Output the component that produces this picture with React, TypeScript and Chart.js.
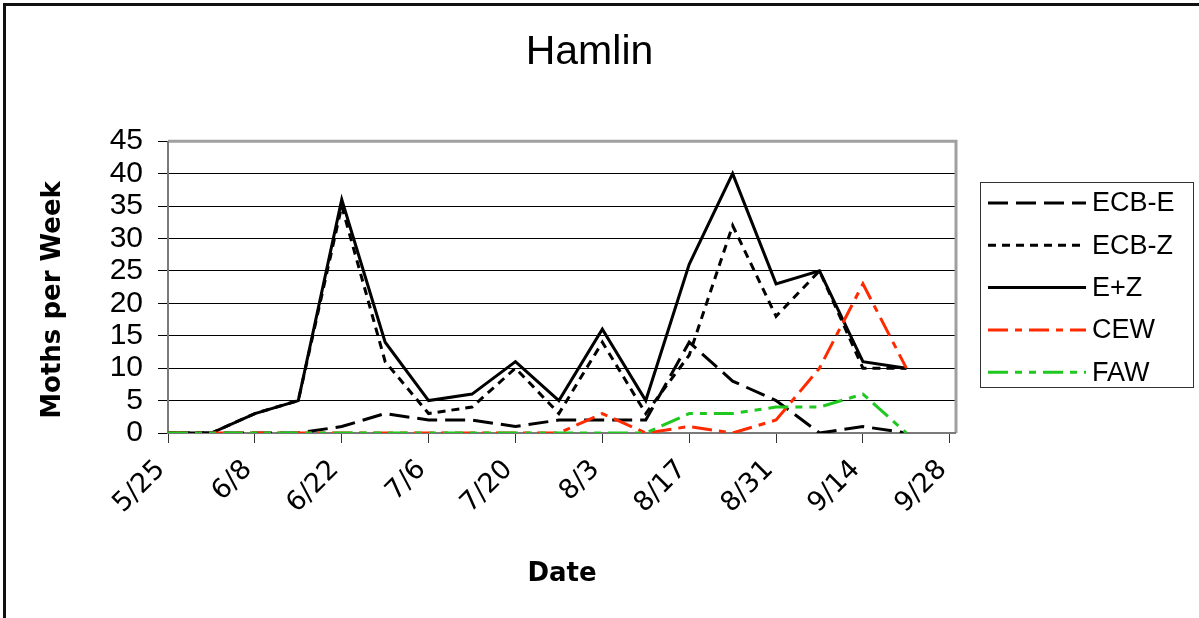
import React, { useEffect, useRef } from "react";
import { Chart, registerables } from "chart.js";

Chart.register(...registerables);

const dates = ["5/25", "6/1", "6/8", "6/15", "6/22", "6/29", "7/6", "7/13", "7/20", "7/27", "8/3", "8/10", "8/17", "8/24", "8/31", "9/7", "9/14", "9/21"];
const tickLabels = ["5/25", "6/8", "6/22", "7/6", "7/20", "8/3", "8/17", "8/31", "9/14", "9/28"];
const ecbE = [0, 0, 0, 0, 1, 3, 2, 2, 1, 2, 2, 2, 14, 8, 5, 0, 1, 0];
const ecbZ = [0, 0, 3, 5, 35, 11, 3, 4, 10, 3, 14, 3, 12, 32, 18, 25, 10, 10];
const ePlusZ = [0, 0, 3, 5, 36, 14, 5, 6, 11, 5, 16, 5, 26, 40, 23, 25, 11, 10];
const cew = [0, 0, 0, 0, 0, 0, 0, 0, 0, 0, 3, 0, 1, 0, 2, 10, 23, 10];
const faw = [0, 0, 0, 0, 0, 0, 0, 0, 0, 0, 0, 0, 3, 3, 4, 4, 6, 0];

const seriesNames = ["ECB-E", "ECB-Z", "E+Z", "CEW", "FAW"];
const yTitle = "Moths per Week";

const START = Date.UTC(2001, 4, 25);
function dayOf(label: string): number {
  const [m, d] = label.split("/").map(Number);
  return Math.round((Date.UTC(2001, m - 1, d) - START) / 86400000);
}

function pts(values: number[]) {
  return values.map((v, i) => ({ x: dayOf(dates[i]), y: v }));
}

const RED = "#ff2a00";
const GREEN = "#1ec81e";

const legendPlugin = {
  id: "customLegend",
  afterDraw(chart: any) {
    const ctx = chart.ctx;
    const box = { x: 980.5, y: 182.5, w: 213, h: 205 };
    ctx.save();
    ctx.strokeStyle = "#333";
    ctx.lineWidth = 1;
    ctx.strokeRect(box.x, box.y, box.w, box.h);
    const ds = chart.data.datasets;
    ds.forEach((d: any, i: number) => {
      const y = 203 + i * 42.3;
      ctx.beginPath();
      ctx.setLineDash(d.borderDash || []);
      ctx.lineWidth = d.borderWidth;
      ctx.strokeStyle = d.borderColor;
      ctx.lineCap = "butt";
      ctx.moveTo(988, y);
      ctx.lineTo(1086, y);
      ctx.stroke();
      ctx.setLineDash([]);
      ctx.fillStyle = "#000";
      ctx.font = "27px 'Liberation Sans'";
      ctx.textBaseline = "middle";
      ctx.textAlign = "left";
      ctx.fillText(d.label, 1092, y + 1);
    });
    // y axis title
    ctx.save();
    ctx.translate(53, 300);
    ctx.rotate(-Math.PI / 2);
    ctx.font = "bold 26px 'DejaVu Sans'";
    ctx.textAlign = "center";
    ctx.textBaseline = "middle";
    ctx.fillStyle = "#000";
    ctx.fillText(yTitle, 0, 0);
    ctx.restore();
    ctx.restore();
  },
};

const framePlugin = {
  id: "plotFrame",
  beforeDatasetsDraw(chart: any) {
    const { ctx, chartArea: a } = chart;
    ctx.save();
    ctx.strokeStyle = "#a0a0a0";
    ctx.lineWidth = 3;
    ctx.beginPath();
    ctx.moveTo(a.left, a.top);
    ctx.lineTo(a.right, a.top);
    ctx.lineTo(a.right, a.bottom);
    ctx.stroke();
    ctx.strokeStyle = "#7a7a7a";
    ctx.lineWidth = 2;
    ctx.beginPath();
    ctx.moveTo(a.left, a.top);
    ctx.lineTo(a.left, a.bottom);
    ctx.lineTo(a.right, a.bottom);
    ctx.stroke();
    ctx.restore();
  },
};

export default function App() {
  const ref = useRef<HTMLCanvasElement>(null);
  useEffect(() => {
    const canvas = ref.current!;
    const common = { pointRadius: 0, tension: 0, borderWidth: 3, borderCapStyle: "butt", fill: false };
    const chart = new Chart(canvas, {
      type: "line",
      data: {
        datasets: [
          { ...common, label: seriesNames[0], data: pts(ecbE), borderColor: "#000", borderDash: [20, 8], order: 5 },
          { ...common, label: seriesNames[1], data: pts(ecbZ), borderColor: "#000", borderDash: [8, 6], order: 4 },
          { ...common, label: seriesNames[2], data: pts(ePlusZ), borderColor: "#000", borderDash: [], order: 3 },
          { ...common, label: seriesNames[3], data: pts(cew), borderColor: RED, borderDash: [20, 7, 7, 7], order: 2 },
          { ...common, label: seriesNames[4], data: pts(faw), borderColor: GREEN, borderDash: [20, 7, 7, 7, 7, 7], order: 1 },
        ] as any,
      },
      options: {
        animation: false,
        responsive: false,
        maintainAspectRatio: false,
        layout: { padding: { left: 0, right: 20, top: 0, bottom: 0 } },
        plugins: {
          legend: { display: false },
          tooltip: { enabled: false },
          title: {
            display: true,
            text: "Hamlin",
            color: "#000",
            font: { family: "'Liberation Sans'", size: 41, weight: "normal" },
            padding: { top: 28, bottom: 64 },
          },
        },
        scales: {
          x: {
            type: "linear",
            min: 0,
            max: 127,
            afterBuildTicks: (axis: any) => {
              axis.ticks = tickLabels.map((l) => ({ value: dayOf(l) }));
            },
            afterFit: (axis: any) => {
              axis.height = 185;
            },
            grid: { display: true, drawOnChartArea: false, drawTicks: true, tickLength: 10, color: "#333", lineWidth: 1 },
            border: { display: false },
            ticks: {
              autoSkip: false,
              maxRotation: 45,
              minRotation: 45,
              padding: 11,
              labelOffset: -7,
              color: "#000",
              font: { family: "'DejaVu Sans'", size: 27 },
              callback: (v: any) => {
                const idx = tickLabels.findIndex((l) => dayOf(l) === v);
                return idx >= 0 ? tickLabels[idx] : "";
              },
            },
            title: {
              display: true,
              text: "Date",
              color: "#000",
              font: { family: "'DejaVu Sans'", size: 26, weight: "bold" },
              padding: { top: 0, bottom: 28 },
            },
          },
          y: {
            type: "linear",
            min: 0,
            max: 45,
            afterFit: (axis: any) => {
              axis.width = 168;
            },
            grid: { display: true, drawOnChartArea: true, drawTicks: true, tickLength: 10, color: "#000", lineWidth: 1 },
            border: { display: false },
            ticks: {
              stepSize: 5,
              autoSkip: false,
              padding: 15,
              color: "#000",
              font: { family: "'Liberation Sans'", size: 30 },
            },
            title: { display: false },
          },
          yR: {
            type: "linear",
            position: "right",
            display: true,
            afterFit: (axis: any) => {
              axis.width = 223;
            },
            grid: { display: false, drawTicks: false },
            border: { display: false },
            ticks: { display: false },
          },
        },
      } as any,
      plugins: [framePlugin, legendPlugin],
    });
    return () => chart.destroy();
  }, []);

  return (
    <div style={{ position: "absolute", left: 0, top: 0, width: 1199, height: 618, overflow: "hidden", background: "#fff" }}>
      <canvas ref={ref} width={1199} height={618} style={{ display: "block", width: 1199, height: 618 }} />
      <div
        style={{
          position: "absolute",
          left: 3,
          top: 3,
          width: 1300,
          height: 700,
          borderLeft: "3px solid #111",
          borderTop: "3px solid #111",
          pointerEvents: "none",
        }}
      />
    </div>
  );
}
